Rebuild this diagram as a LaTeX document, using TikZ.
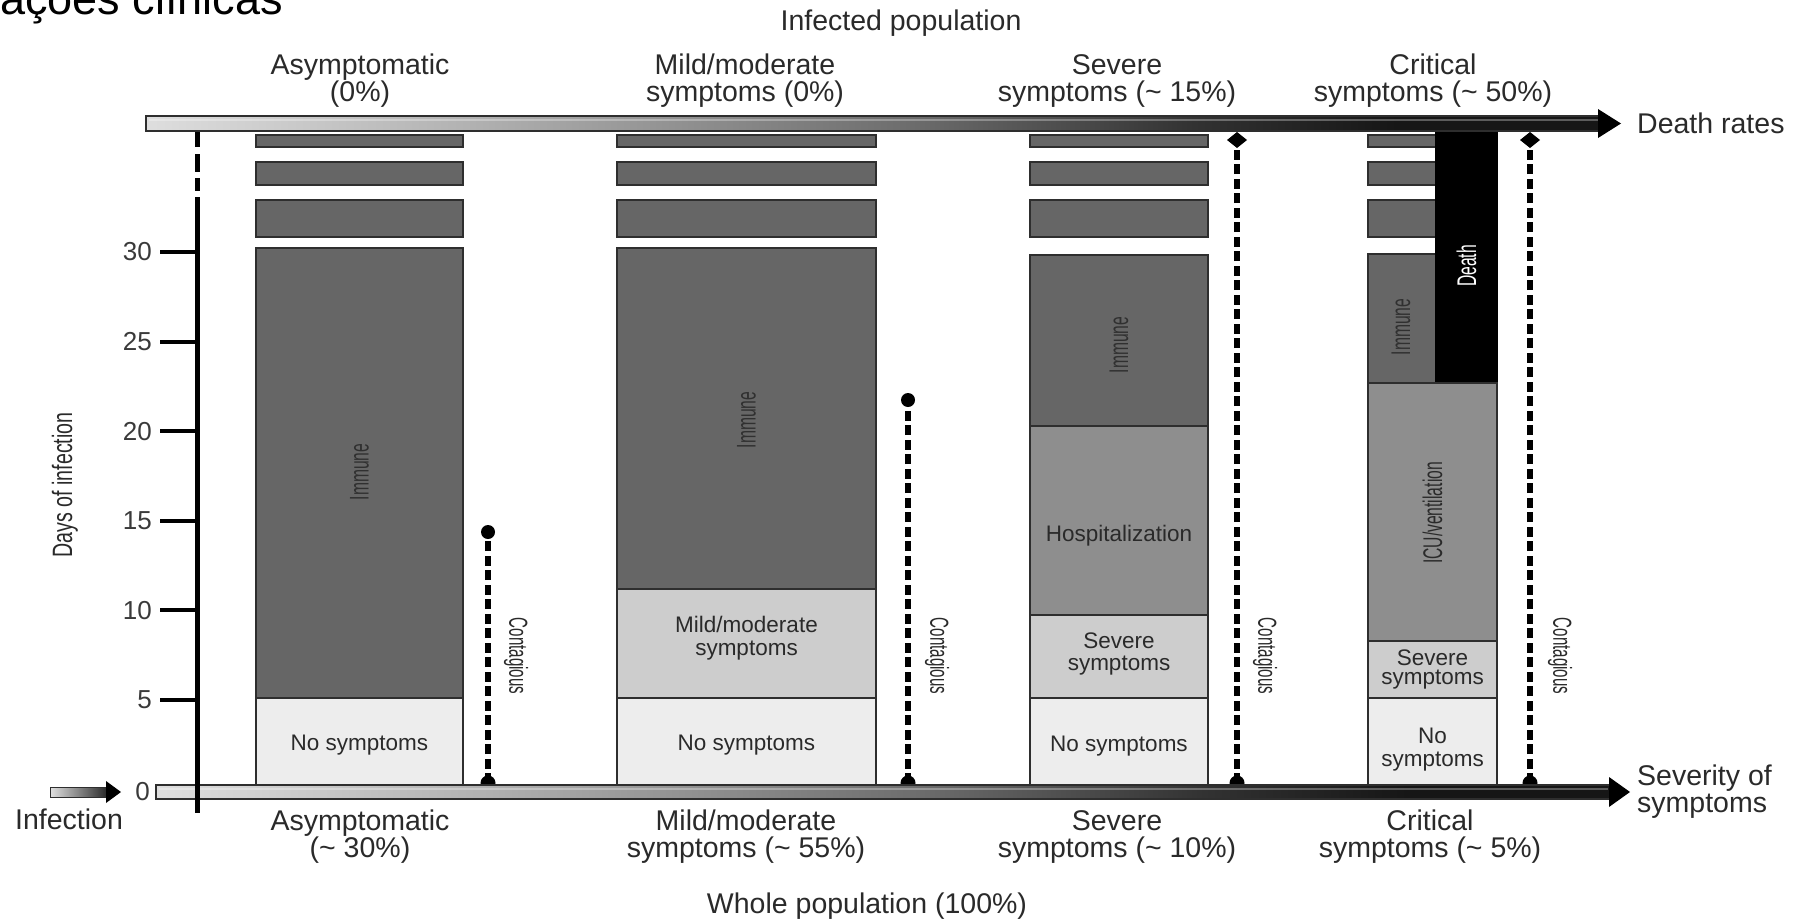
\documentclass[tikz,border=0pt]{standalone}
\usepackage{fontspec}
\setmainfont{Liberation Sans}
\newfontfamily\condf{Liberation Sans}[FakeStretch=0.58]
\newfontfamily\condb{Liberation Sans}[FakeStretch=0.7]
\usetikzlibrary{calc}

\definecolor{txt}{HTML}{2A2A2A}
\definecolor{numtxt}{HTML}{3A3A3A}
\definecolor{immune}{HTML}{666666}
\definecolor{immtxt}{HTML}{303030}
\definecolor{hosp}{HTML}{8E8E8E}
\definecolor{sympt}{HTML}{CDCDCD}
\definecolor{nosym}{HTML}{EDEDED}
\definecolor{edge}{HTML}{2E2E2E}
\definecolor{s0}{HTML}{DEDEDE}
\definecolor{s1}{HTML}{B2B2B2}
\definecolor{s2}{HTML}{6E6E6E}
\definecolor{s3}{HTML}{323232}
\definecolor{s4}{HTML}{161616}

% horizontal grey ramp for the two axis bars (path spans 25bp..75bp)
\pgfdeclarehorizontalshading{axisshade}{100bp}{color(0bp)=(s0); color(25bp)=(s0); color(36bp)=(s1); color(51bp)=(s2); color(61bp)=(s3); color(68bp)=(s4); color(100bp)=(s4)}

\begin{document}
\begin{tikzpicture}[x=1pt,y=-1pt,
  hdr/.style={font=\fontsize{28.5}{30}\selectfont, text=txt, inner sep=0pt, anchor=base},
  boxtxt/.style={font=\fontsize{22.5}{24}\selectfont, text=txt, inner sep=0pt, anchor=base},
  vlab/.style={font=\condf\fontsize{27}{27}\selectfont, inner sep=0pt, rotate=90},
  clab/.style={font=\condf\fontsize{26}{26}\selectfont, text=txt, inner sep=0pt, rotate=-90},
  numlab/.style={font=\fontsize{26}{26}\selectfont, text=numtxt, inner sep=0pt, anchor=east},
  blk/.style={draw=edge, line width=2.6pt},
  contag/.style={line width=5.5pt, dash pattern=on 10pt off 4.5pt, black},
  tickline/.style={line width=4pt, black},
  axisbar/.style={shading=axisshade, draw=edge, line width=1.5pt},
]
\useasboundingbox (0,0) rectangle (1794,921);
\clip (0,0) rectangle (1794,921);
\fill[white] (0,0) rectangle (1794,921);

% page heading, cut by the upper edge
\node[font=\fontsize{45}{45}\selectfont, text=black, inner sep=0pt, anchor=base east] (pagehead) at (283,14) {ações clínicas};

% ---------- columns ----------
% Asymptomatic
\foreach \ya/\yb in {135/147,162/185,200/237}
  \filldraw[blk, fill=immune] (256,\ya) rectangle (463,\yb);
\filldraw[blk, fill=immune] (256,248) rectangle (463,698);
\filldraw[blk, fill=nosym] (256,698) rectangle (463,785);

% Mild/moderate
\foreach \ya/\yb in {135/147,162/185,200/237}
  \filldraw[blk, fill=immune] (617,\ya) rectangle (876,\yb);
\filldraw[blk, fill=immune] (617,248) rectangle (876,589);
\filldraw[blk, fill=sympt] (617,589) rectangle (876,698);
\filldraw[blk, fill=nosym] (617,698) rectangle (876,785);

% Severe
\foreach \ya/\yb in {135/147,162/185,200/237}
  \filldraw[blk, fill=immune] (1030,\ya) rectangle (1208,\yb);
\filldraw[blk, fill=immune] (1030,255) rectangle (1208,426);
\filldraw[blk, fill=hosp] (1030,426) rectangle (1208,615);
\filldraw[blk, fill=sympt] (1030,615) rectangle (1208,698);
\filldraw[blk, fill=nosym] (1030,698) rectangle (1208,785);

% Critical
\foreach \ya/\yb in {135/147,162/185,200/237}
  \filldraw[blk, fill=immune] (1368,\ya) rectangle (1436,\yb);
\filldraw[blk, fill=immune] (1368,254) rectangle (1436,383);
\fill[black] (1435,129) rectangle (1498,384);
\filldraw[blk, fill=hosp] (1368,383) rectangle (1497,641);
\filldraw[blk, fill=sympt] (1368,641) rectangle (1497,698);
\filldraw[blk, fill=nosym] (1368,698) rectangle (1497,785);

% ---------- contagious periods ----------
\coordinate (ca1) at (488,783);  \coordinate (cb1) at (488,532);
\coordinate (ca2) at (908,783);  \coordinate (cb2) at (908,400);
\coordinate (ca3) at (1237,783); \coordinate (cb3) at (1237,140);
\coordinate (ca4) at (1530,783); \coordinate (cb4) at (1530,140);
\foreach \i in {1,2,3,4} {
  \draw[contag] (ca\i) -- (cb\i);
  \fill[black] (ca\i) circle (7.5pt);
}
\fill[black] (cb1) circle (7pt);
\fill[black] (cb2) circle (7pt);
\foreach \i in {3,4}
  \fill[black] ($(cb\i)+(-10,0)$) -- ($(cb\i)+(0,-8)$) -- ($(cb\i)+(10,0)$) -- ($(cb\i)+(0,8)$) -- cycle;

% ---------- axes ----------
\coordinate (topL) at (146,116);
\coordinate (topR) at (1601,131);
\path[axisbar] (topL) rectangle (topR);
\draw[white, opacity=0.3, line width=2pt] (149,120) -- (1598,120);
\fill[black] (1598,109) -- (1621,123.5) -- (1598,138) -- cycle;

\coordinate (botL) at (156,785);
\coordinate (botR) at (1611,799);
\path[axisbar] (botL) rectangle (botR);
\draw[white, opacity=0.3, line width=2pt] (159,789) -- (1608,789);
\fill[black] (1609,777) -- (1630,792) -- (1609,807) -- cycle;

% infection arrow
\path[left color=black!12, right color=black!85, draw=edge, line width=1pt] (50,787) rectangle (108,797);
\fill[black] (106,781) -- (121,792) -- (106,803) -- cycle;

% day axis
\coordinate (ax0) at (197,132);
\coordinate (ax1) at (197,813);
\draw[line width=5pt] (197,132) -- (197,147);
\draw[line width=5pt] (197,154) -- (197,172);
\draw[line width=5pt] (197,178) -- (197,191);
\draw[line width=5pt] (197,197) -- (ax1);
\foreach \d in {5,10,...,30} {
  \pgfmathsetmacro{\yy}{789.6-17.92*\d}
  \draw[tickline] (160,\yy) -- (197,\yy);
  \node[numlab] (tick\d) at (152,\yy) {\d};
}
\node[numlab, anchor=base east] (tick0) at (150,800) {0};
\node[font=\condb\fontsize{28}{28}\selectfont, text=txt, inner sep=0pt, rotate=90] (daysinf) at (65,485) {Days of infection};

% ---------- text in the boxes ----------
\node[boxtxt] (n1) at (359.5,750) {No symptoms};
\node[boxtxt] (m2a) at (746.5,632) {Mild/moderate};
\node[boxtxt] (m2b) at (746.5,655) {symptoms};
\node[boxtxt] (n2) at (746.5,750) {No symptoms};
\node[boxtxt] (h3) at (1119,541) {Hospitalization};
\node[boxtxt] (s3a) at (1119,648) {Severe};
\node[boxtxt] (s3b) at (1119,670) {symptoms};
\node[boxtxt] (n3) at (1119,751) {No symptoms};
\node[boxtxt] (s4a) at (1432.5,665) {Severe};
\node[boxtxt] (s4b) at (1432.5,684) {symptoms};
\node[boxtxt] (n4a) at (1432.5,743) {No};
\node[boxtxt] (n4b) at (1432.5,766) {symptoms};

\node[vlab, text=immtxt] (i1) at (359.5,472) {Immune};
\node[vlab, text=immtxt] (i2) at (746.5,420) {Immune};
\node[vlab, text=immtxt] (i3) at (1119,345) {Immune};
\node[vlab, text=immtxt] (i4) at (1401,327) {Immune};
\node[vlab, text=white] (d4) at (1466.5,266) {Death};
\node[vlab, text=txt] (icu4) at (1432.5,513) {ICU/ventilation};

\node[clab] (k1) at (516,656) {Contagious};
\node[clab] (k2) at (937,656) {Contagious};
\node[clab] (k3) at (1265,656) {Contagious};
\node[clab] (k4) at (1560,656) {Contagious};

% ---------- headings ----------
\node[hdr] (infpop) at (901,30) {Infected population};
\node[hdr] (ta1) at (360,74) {Asymptomatic};
\node[hdr] (tb1) at (360,101) {(0\%)};
\node[hdr] (ta2) at (745,74) {Mild/moderate};
\node[hdr] (tb2) at (745,101) {symptoms (0\%)};
\node[hdr] (ta3) at (1117,74) {Severe};
\node[hdr] (tb3) at (1117,101) {symptoms (\textasciitilde{} 15\%)};
\node[hdr] (ta4) at (1433,74) {Critical};
\node[hdr] (tb4) at (1433,101) {symptoms (\textasciitilde{} 50\%)};

\node[hdr] (ba1) at (360,830) {Asymptomatic};
\node[hdr] (bb1) at (360,857) {(\textasciitilde{} 30\%)};
\node[hdr] (ba2) at (746,830) {Mild/moderate};
\node[hdr] (bb2) at (746,857) {symptoms (\textasciitilde{} 55\%)};
\node[hdr] (ba3) at (1117,830) {Severe};
\node[hdr] (bb3) at (1117,857) {symptoms (\textasciitilde{} 10\%)};
\node[hdr] (ba4) at (1430,830) {Critical};
\node[hdr] (bb4) at (1430,857) {symptoms (\textasciitilde{} 5\%)};
\node[hdr] (wholepop) at (867,913) {Whole population (100\%)};

\node[hdr, anchor=base west] (deathrates) at (1637,133) {Death rates};
\node[hdr, anchor=base west] (sev1) at (1637,785) {Severity of};
\node[hdr, anchor=base west] (sev2) at (1637,812) {symptoms};
\node[hdr] (infection) at (69,829) {Infection};
\end{tikzpicture}
\end{document}
